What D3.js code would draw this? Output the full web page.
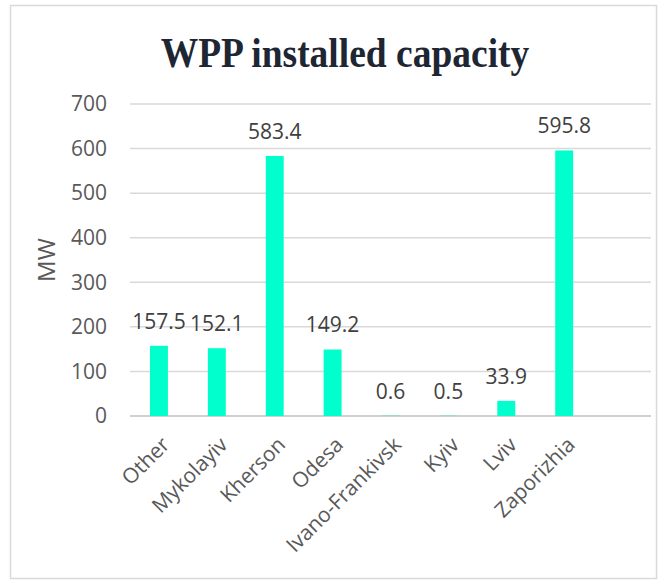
<!DOCTYPE html>
<html>
<head>
<meta charset="utf-8">
<script src="https://cdn.jsdelivr.net/npm/d3@7"></script>
<style>
  body { margin: 0; background: #fff; }
  svg { display: block; }
</style>
</head>
<body>
<div class="canvas"></div>
<script>
// chart data
const regions = ['Other', 'Mykolayiv', 'Kherson', 'Odesa', 'Ivano-Frankivsk', 'Kyiv', 'Lviv', 'Zaporizhia'];
const capacity = [157.5, 152.1, 583.4, 149.2, 0.6, 0.5, 33.9, 595.8];
const yTicks = [0, 100, 200, 300, 400, 500, 600, 700];

const dims = { width: 661, height: 581 };
const plot = { left: 130, right: 651, top: 104, bottom: 416 };

const svg = d3.select('.canvas')
    .append('svg')
    .attr('width', dims.width)
    .attr('height', dims.height);

// outer frame
svg.append('rect')
    .attr('x', 10.5).attr('y', 5.5)
    .attr('width', 646).attr('height', 573)
    .attr('fill', '#fff')
    .attr('stroke', '#d9d9d9')
    .attr('stroke-width', 1.5);

// title (a bit taller than plain Times in the picture)
svg.append('text')
    .attr('transform', 'translate(345, 67) scale(1, 1.12)')
    .attr('text-anchor', 'middle')
    .attr('font-family', '"Liberation Serif", "Times New Roman", serif')
    .attr('font-weight', 'bold')
    .attr('font-size', 37.5)
    .attr('fill', '#1e2633')
    .text('WPP installed capacity');

// excel leaves room for one more (empty) slot on the right
const step = (plot.right - plot.left) / (regions.length + 1);
const x = d3.scaleBand()
    .domain(regions)
    .range([plot.left, plot.left + step * regions.length])
    .paddingInner(0.69)
    .paddingOuter(0.345);

const y = d3.scaleLinear()
    .domain([0, 700])
    .range([plot.bottom, plot.top]);

const graph = svg.append('g');

// gridlines
graph.selectAll('.grid')
    .data(yTicks)
    .enter()
    .append('line')
    .attr('class', 'grid')
    .attr('x1', plot.left).attr('x2', plot.right)
    .attr('y1', d => y(d)).attr('y2', d => y(d))
    .attr('stroke', d => d === 0 ? '#d0d0d0' : '#d9d9d9')
    .attr('stroke-width', d => d === 0 ? 2 : 1.5);

// y axis labels
const yAxis = d3.axisLeft(y).tickValues(yTicks).tickSize(0).tickPadding(23);
const yG = graph.append('g')
    .attr('transform', `translate(${plot.left}, 0)`)
    .call(yAxis);
yG.select('.domain').remove();
yG.selectAll('text')
    .attr('font-family', '"Open Sans", sans-serif')
    .attr('font-size', 21)
    .attr('fill', '#595959');

// axis title
svg.append('text')
    .attr('transform', 'translate(55, 260) rotate(-90)')
    .attr('text-anchor', 'middle')
    .attr('font-family', '"Open Sans", sans-serif')
    .attr('font-size', 24)
    .attr('fill', '#595959')
    .text('MW');

// bars
graph.selectAll('.bar')
    .data(regions)
    .enter()
    .append('rect')
    .attr('class', 'bar')
    .attr('x', d => x(d))
    .attr('width', x.bandwidth())
    .attr('y', (d, i) => y(capacity[i]))
    .attr('height', (d, i) => y(0) - y(capacity[i]))
    .attr('fill', '#00ffcc');

// value labels
graph.selectAll('.val')
    .data(regions)
    .enter()
    .append('text')
    .attr('class', 'val')
    .attr('x', d => x(d) + x.bandwidth() / 2)
    .attr('y', (d, i) => y(capacity[i]) - 17)
    .attr('text-anchor', 'middle')
    .attr('font-family', '"Open Sans", sans-serif')
    .attr('font-size', 21)
    .attr('fill', '#404040')
    .text((d, i) => capacity[i].toFixed(1));

// x labels, rotated
const xAxis = d3.axisBottom(x).tickSize(0).tickPadding(0);
const xG = graph.append('g')
    .attr('transform', `translate(0, ${plot.bottom})`)
    .call(xAxis);
xG.select('.domain').remove();
xG.selectAll('text')
    .attr('font-family', '"Open Sans", sans-serif')
    .attr('font-size', 21)
    .attr('fill', '#595959')
    .attr('text-anchor', 'end')
    .attr('dy', '0')
    .attr('transform', 'translate(12, 30) rotate(-45)');
</script>
</body>
</html>
